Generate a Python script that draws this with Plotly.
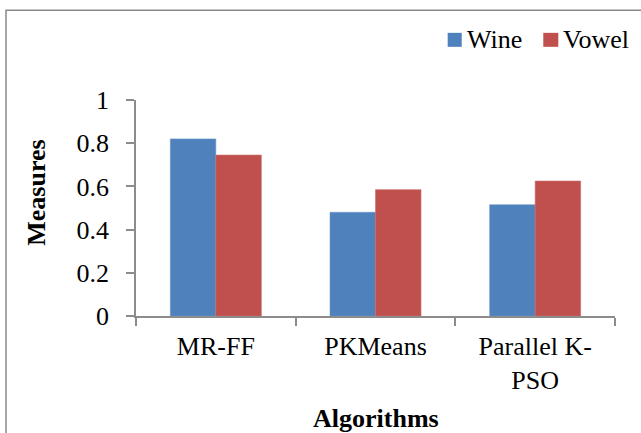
import plotly.graph_objects as go

algorithms = ["MR-FF", "PKMeans", "Parallel K-<br>PSO"]
wine = [0.82, 0.48, 0.515]
vowel = [0.745, 0.585, 0.625]
y_ticks = [0, 0.2, 0.4, 0.6, 0.8, 1]
y_tick_text = ["0", "0.2", "0.4", "0.6", "0.8", "1"]

FONT = "Liberation Serif, Times New Roman, serif"
AXIS_GREY = "#8c8c8c"
WINE_COLOR = "#4F81BD"
VOWEL_COLOR = "#C0504D"

fig = go.Figure()
fig.add_trace(go.Bar(name="Wine", x=algorithms, y=wine, marker_color=WINE_COLOR,
                     marker_line=dict(color="#6f97c9", width=0.6)))
fig.add_trace(go.Bar(name="Vowel", x=algorithms, y=vowel, marker_color=VOWEL_COLOR,
                     marker_line=dict(color="#cc6d6a", width=0.6)))

fig.update_layout(
    width=641, height=433,
    margin=dict(l=136, r=26, t=100, b=116.5),
    paper_bgcolor="white", plot_bgcolor="white",
    barmode="group", bargap=0.43, bargroupgap=0,
    font=dict(family=FONT, size=26, color="black"),
    showlegend=False,
)

fig.update_xaxes(
    showline=True, linecolor=AXIS_GREY, linewidth=1.5,
    ticks="outside", tickson="boundaries", ticklen=8, tickcolor=AXIS_GREY, tickwidth=1.5,
    showgrid=False, tickfont=dict(size=26), ticklabelstandoff=6,
)
fig.update_yaxes(
    range=[0, 1], tickvals=y_ticks, ticktext=y_tick_text,
    showline=True, linecolor=AXIS_GREY, linewidth=1.5,
    ticks="outside", ticklen=8, tickcolor=AXIS_GREY, tickwidth=1.5,
    showgrid=False, zeroline=False, tickfont=dict(size=26),
    ticklabelstandoff=12,
)

# axis titles
fig.add_annotation(text="<b>Measures</b>", xref="paper", yref="paper",
                   x=-0.207, y=0.570, xanchor="center", yanchor="middle",
                   textangle=-90, showarrow=False,
                   font=dict(family=FONT, size=26))
fig.add_annotation(text="<b>Algorithms</b>", xref="paper", yref="paper",
                   x=0.5, y=-0.474, xanchor="center", yanchor="middle",
                   showarrow=False, font=dict(family=FONT, size=26))

# legend: colour keys and series names, top right
legend_items = [("Wine", WINE_COLOR, 0.6507, 0.680, 0.6860),
                ("Vowel", VOWEL_COLOR, 0.8503, 0.8816, 0.8880)]
for name, color, sx0, sx1, tx in legend_items:
    fig.add_shape(type="rect", xref="paper", yref="paper",
                  x0=sx0, x1=sx1, y0=1.2462, y1=1.3109,
                  fillcolor=color, line=dict(width=0))
    fig.add_annotation(text=name, xref="paper", yref="paper",
                       x=tx, y=1.2785, xanchor="left", yanchor="middle",
                       showarrow=False, font=dict(family=FONT, size=26))

# chart-area frame
fig.add_shape(type="rect", xref="paper", yref="paper",
              x0=-0.2714, y0=-0.7, x1=1.2, y1=1.4157,
              line=dict(color="#8a8a8a", width=1.5), fillcolor="rgba(0,0,0,0)",
              layer="below")

fig.write_html("out.html")
